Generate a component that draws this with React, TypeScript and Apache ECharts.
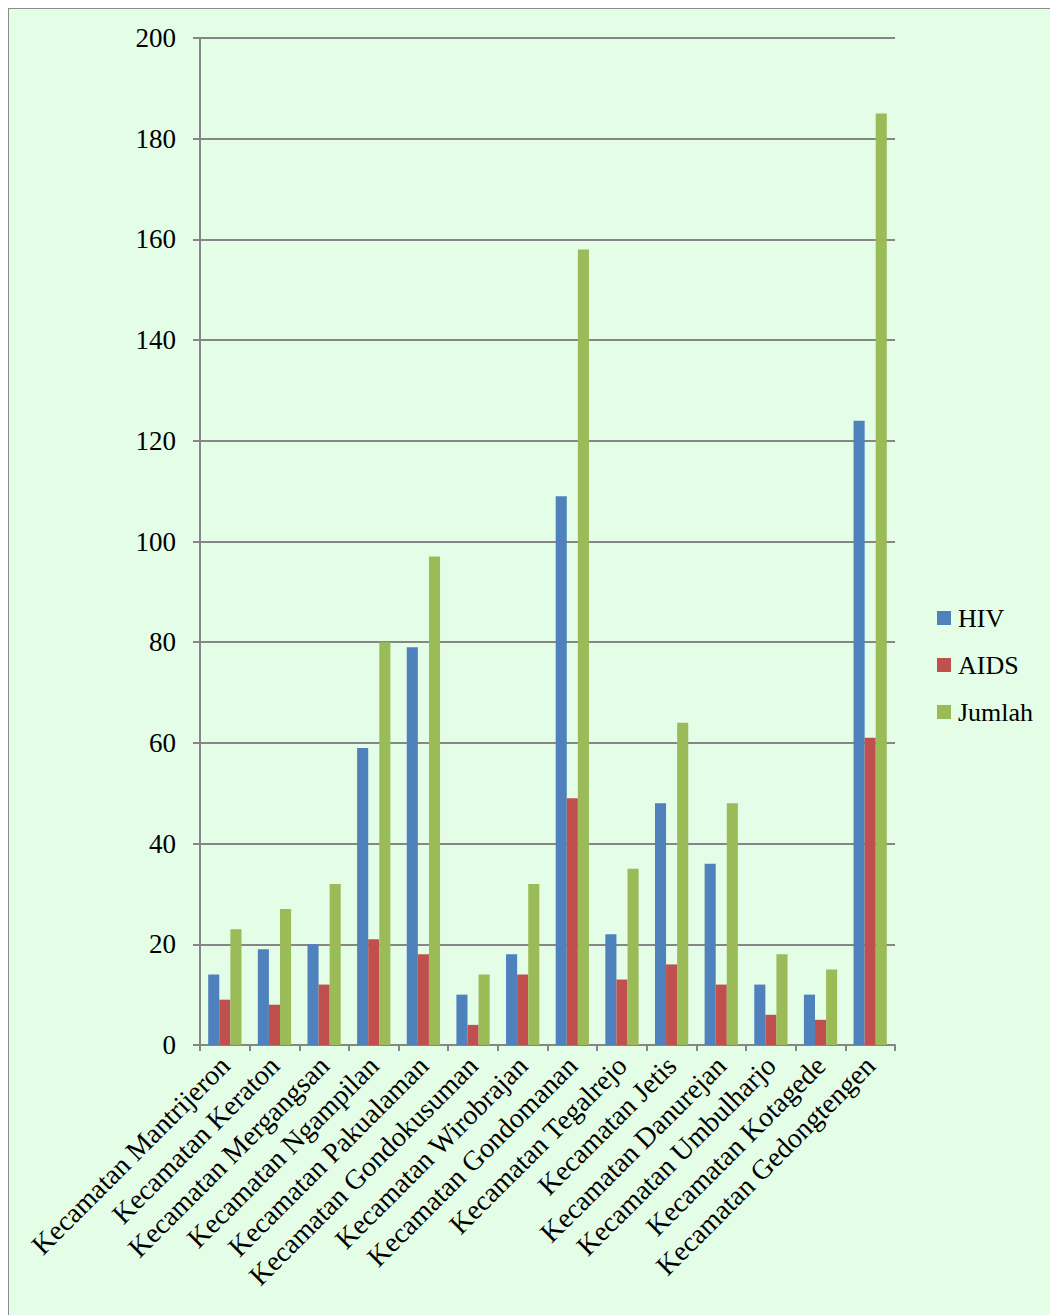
import React, { useEffect, useRef } from "react";
import * as echarts from "echarts";

const categories = [
  "Kecamatan Mantrijeron",
  "Kecamatan Keraton",
  "Kecamatan Mergangsan",
  "Kecamatan Ngampilan",
  "Kecamatan Pakualaman",
  "Kecamatan Gondokusuman",
  "Kecamatan Wirobrajan",
  "Kecamatan Gondomanan",
  "Kecamatan Tegalrejo",
  "Kecamatan Jetis",
  "Kecamatan Danurejan",
  "Kecamatan Umbulharjo",
  "Kecamatan Kotagede",
  "Kecamatan Gedongtengen",
];
const hiv = [14, 19, 20, 59, 79, 10, 18, 109, 22, 48, 36, 12, 10, 124];
const aids = [9, 8, 12, 21, 18, 4, 14, 49, 13, 16, 12, 6, 5, 61];
const jumlah = [23, 27, 32, 80, 97, 14, 32, 158, 35, 64, 48, 18, 15, 185];

const FONT = "Liberation Serif";

export default function App() {
  const ref = useRef<HTMLDivElement>(null);
  useEffect(() => {
    if (!ref.current) return;
    const chart = echarts.init(ref.current, undefined, { renderer: "svg" });
    chart.setOption({
      animation: false,
      backgroundColor: "transparent",
      textStyle: { fontFamily: FONT },
      grid: { left: 191, top: 29, width: 695, height: 1007, containLabel: false },
      legend: {
        orient: "vertical",
        left: 923,
        top: 591,
        itemWidth: 14,
        itemHeight: 14,
        itemGap: 21,
        icon: "rect",
        textStyle: { fontFamily: FONT, fontSize: 26, color: "#000", lineHeight: 26, padding: [0, 0, 0, 2] },
        data: ["HIV", "AIDS", "Jumlah"],
      },
      xAxis: {
        type: "category",
        data: categories,
        axisLine: { lineStyle: { color: "#868686", width: 2 } },
        axisTick: { show: true, length: 6, lineStyle: { color: "#868686", width: 2 } },
        axisLabel: {
          rotate: 45,
          interval: 0,
          margin: 16,
          fontFamily: FONT,
          fontSize: 28,
          color: "#000",
        },
      },
      yAxis: {
        type: "value",
        min: 0,
        max: 200,
        interval: 20,
        axisLine: { show: true, lineStyle: { color: "#868686", width: 2 } },
        axisTick: { show: true, length: 7, lineStyle: { color: "#868686", width: 2 } },
        splitLine: { lineStyle: { color: "#868686", width: 2 } },
        axisLabel: { margin: 24, fontFamily: FONT, fontSize: 27, color: "#000" },
      },
      series: [
        { name: "HIV", type: "bar", data: hiv, barGap: "0%", barCategoryGap: "33%", itemStyle: { color: "#4f81bd" } },
        { name: "AIDS", type: "bar", data: aids, barGap: "0%", barCategoryGap: "33%", itemStyle: { color: "#c0504d" } },
        { name: "Jumlah", type: "bar", data: jumlah, barGap: "0%", barCategoryGap: "33%", itemStyle: { color: "#9bbb59" } },
      ],
    });
    return () => chart.dispose();
  }, []);
  return (
    <div style={{ width: 1060, height: 1320, border: "1px solid #8c8c8c", background: "#e4fde6", boxSizing: "content-box" }}>
      <div ref={ref} style={{ width: 1060, height: 1320 }} />
    </div>
  );
}
